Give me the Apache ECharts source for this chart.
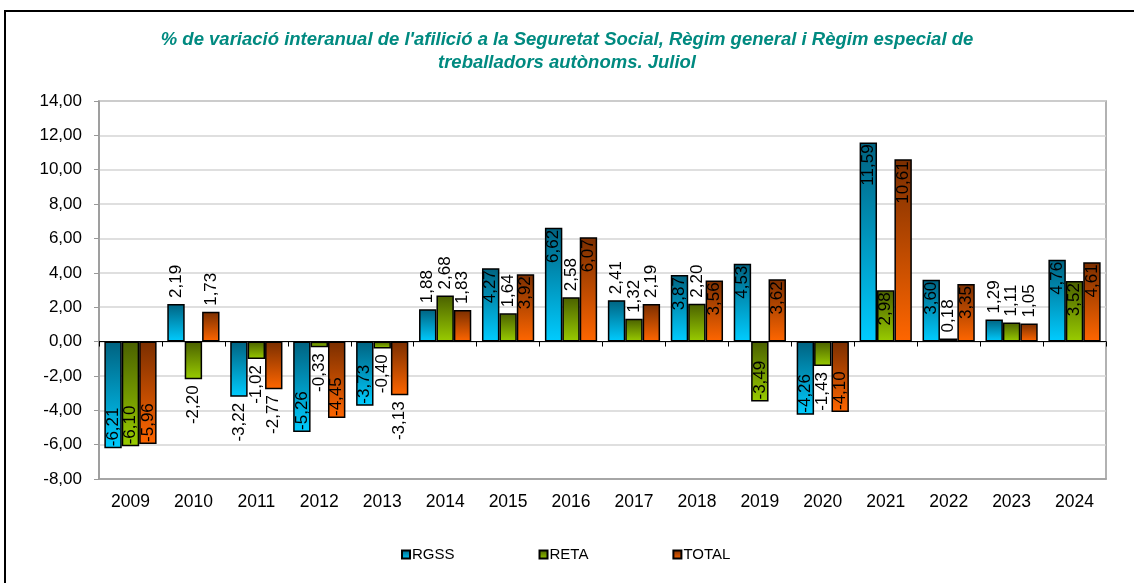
<!DOCTYPE html>
<html>
<head>
<meta charset="utf-8">
<script src="https://cdn.jsdelivr.net/npm/echarts@6/dist/echarts.min.js"></script>
<style>
  html, body { margin: 0; padding: 0; background: #fff; }
  #chartMain { width: 1134px; height: 583px; }
</style>
</head>
<body>
<div id="chartMain"></div>
<script>
// dades llegides del gràfic
const years = ['2009', '2010', '2011', '2012', '2013', '2014', '2015', '2016',
               '2017', '2018', '2019', '2020', '2021', '2022', '2023', '2024'];
const rgss  = [-6.21, 2.19, -3.22, -5.26, -3.73, 1.88, 4.27, 6.62, 2.41, 3.87, 4.53, -4.26, 11.59, 3.60, 1.29, 4.76];
const reta  = [-6.10, -2.20, -1.02, -0.33, -0.40, 2.68, 1.64, 2.58, 1.32, 2.20, -3.49, -1.43, 2.98, 0.18, 1.11, 3.52];
const total = [-5.96, 1.73, -2.77, -4.45, -3.13, 1.83, 3.92, 6.07, 2.19, 3.56, 3.62, -4.10, 10.61, 3.35, 1.05, 4.61];

const fmt = v => v.toFixed(2).replace('.', ',');

function grad(dark, light) {
    return new echarts.graphic.LinearGradient(0, 0, 0, 1, [
        { offset: 0, color: dark },
        { offset: 1, color: light }
    ]);
}

// etiqueta girada: dins la barra si és prou llarga, si no, fora
function makeData(values) {
    return values.map(v => {
        let label;
        if (v >= 0) {
            label = v >= 2.9
                ? { position: 'insideTop', align: 'right', distance: 2 }
                : { position: 'top', align: 'left', distance: 6 };
        } else {
            label = v <= -3.3
                ? { position: 'insideBottom', align: 'left', distance: 2 }
                : { position: 'bottom', align: 'right', distance: 6 };
        }
        return { value: v, label: label };
    });
}

function barSeries(name, values, dark, light) {
    return {
        name: name,
        type: 'bar',
        xAxisIndex: 0,
        data: makeData(values),
        barGap: '0%',
        barCategoryGap: '17%',
        itemStyle: { color: grad(dark, light), borderColor: '#000', borderWidth: 1.5 },
        label: {
            show: true,
            rotate: 90,
            verticalAlign: 'middle',
            fontSize: 17,
            fontFamily: 'Liberation Sans, Arial',
            color: '#000',
            formatter: p => fmt(p.value)
        }
    };
}

const myChart = echarts.init(document.getElementById('chartMain'));

myChart.setOption({
    animation: false,
    backgroundColor: '#fff',
    title: {
        text: "% de variació interanual de l'afilició a la Seguretat Social, Règim general i Règim especial de\ntreballadors autònoms. Juliol",
        left: 'center',
        top: 23,
        textStyle: {
            fontSize: 18.5,
            fontWeight: 'bold',
            fontStyle: 'italic',
            fontFamily: 'Liberation Sans, Arial',
            color: '#008a80',
            lineHeight: 23
        }
    },
    legend: {
        bottom: 16,
        left: 396,
        itemWidth: 8,
        itemHeight: 8,
        itemGap: 84,
        icon: 'rect',
        textStyle: { fontSize: 15, fontFamily: 'Liberation Sans, Arial', color: '#000', padding: [0, 0, 0, -3] },
        data: ['RGSS', 'RETA', 'TOTAL']
    },
    grid: {
        left: 99, right: 28, top: 101, bottom: 104,
        show: true, borderColor: '#999', borderWidth: 1.5
    },
    xAxis: [{
        type: 'category',
        data: years,
        position: 'bottom',
        axisLine: { onZero: false, lineStyle: { color: '#999', width: 1.5 } },
        axisTick: { show: false },
        axisLabel: { fontSize: 17.5, fontFamily: 'Liberation Sans, Arial', color: '#000', margin: 14 }
    }, {
        type: 'category',
        data: years,
        position: 'bottom',
        axisLine: { onZero: true, lineStyle: { color: '#000', width: 1 } },
        axisTick: { show: true, length: 5, lineStyle: { color: '#000' } },
        axisLabel: { show: false }
    }],
    yAxis: {
        type: 'value',
        min: -8,
        max: 14,
        interval: 2,
        axisLine: { show: true, lineStyle: { color: '#999', width: 1.5 } },
        axisTick: { show: true, length: 5, lineStyle: { color: '#999' } },
        axisLabel: {
            fontSize: 17, fontFamily: 'Liberation Sans, Arial', color: '#000', margin: 17,
            formatter: v => fmt(v)
        },
        splitLine: { lineStyle: { color: '#d4d4d4', width: 1.5 } }
    },
    graphic: [{
        type: 'rect',
        shape: { x: 5, y: 11, width: 1140, height: 580 },
        style: { fill: null, stroke: '#000', lineWidth: 2 },
        silent: true
    }],
    series: [
        barSeries('RGSS', rgss, '#006280', '#00ccff'),
        barSeries('RETA', reta, '#4a6000', '#99cc00'),
        barSeries('TOTAL', total, '#7a2e00', '#ff6600')
    ]
});
</script>
</body>
</html>
